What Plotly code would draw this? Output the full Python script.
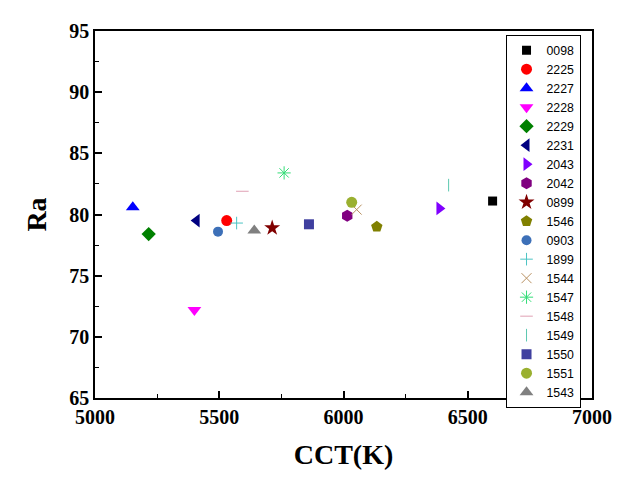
import plotly.graph_objects as go

names = ["0098", "2225", "2227", "2228", "2229", "2231", "2043", "2042", "0899", "1546",
         "0903", "1899", "1544", "1547", "1548", "1549", "1550", "1551", "1543"]
cct = [6600, 5530, 5152, 5400, 5216, 5409, 6386, 6015, 5713, 6134,
       5495, 5570, 6053, 5761, 5593, 6423, 5861, 6033, 5641]
ra = [81.1, 79.5, 80.6, 72.2, 78.4, 79.5, 80.5, 79.9, 78.9, 79.0,
      78.6, 79.3, 80.4, 83.4, 81.9, 82.4, 79.2, 81.0, 78.7]
symbols = ["square", "circle", "triangle-up", "triangle-down", "diamond", "triangle-left",
           "triangle-right", "hexagon", "star", "pentagon", "circle", "cross-thin",
           "x-thin", "asterisk", "line-ew", "line-ns", "square", "circle", "triangle-up"]
colors = ["#000000", "#FF0000", "#0000FF", "#FF00FF", "#008000", "#000080", "#8000FF",
          "#800080", "#800000", "#808000", "#3D70B8", "#4CC4C4", "#B89060", "#33DD77",
          "#E0A0B4", "#5CC8B0", "#3F3F9F", "#9AB030", "#808080"]
sizes = [9, 11, 12, 12, 11, 12, 12, 12, 12, 12, 10, 9, 10, 11, 9, 9, 10, 11, 12]

fig = go.Figure()
for n, x, y, s, c, sz in zip(names, cct, ra, symbols, colors, sizes):
    thin = s in ("cross-thin", "x-thin", "asterisk", "line-ew", "line-ns")
    fig.add_trace(go.Scatter(
        x=[x], y=[y], mode="markers", name=n,
        marker=dict(symbol=s, color=c, size=sz,
                    line=dict(color=c, width=1 if thin else 0)),
    ))

axis_common = dict(
    showgrid=False, zeroline=False, showline=True, linecolor="black", linewidth=1.5,
    mirror=True, ticks="inside", ticklen=7, tickwidth=1.5, tickcolor="black",
    tickfont=dict(family="Liberation Serif", size=20, color="black", weight="bold"),
    minor=dict(ticks="inside", ticklen=4, tickwidth=1.2, tickcolor="black"),
)
fig.update_xaxes(range=[5000, 7000], dtick=500, minor_dtick=250,
                 title=dict(text="CCT(K)", standoff=18,
                            font=dict(family="Liberation Serif", size=28, color="black", weight="bold")),
                 **axis_common)
fig.update_yaxes(range=[65, 95], dtick=5, minor_dtick=2.5,
                 title=dict(text="Ra", standoff=14,
                            font=dict(family="Liberation Serif", size=28, color="black", weight="bold")),
                 **axis_common)

fig.update_layout(
    width=638, height=482,
    margin=dict(l=87, r=54, t=21, b=92),
    plot_bgcolor="white", paper_bgcolor="white",
    legend=dict(x=0.826, y=0.99, xanchor="left", yanchor="top",
                bordercolor="black", borderwidth=1, bgcolor="white",
                font=dict(family="Liberation Sans", size=12.3, color="black"),
                tracegroupgap=0, itemwidth=30, maxheight=460),
    showlegend=True,
)
fig.write_html("out.html")
